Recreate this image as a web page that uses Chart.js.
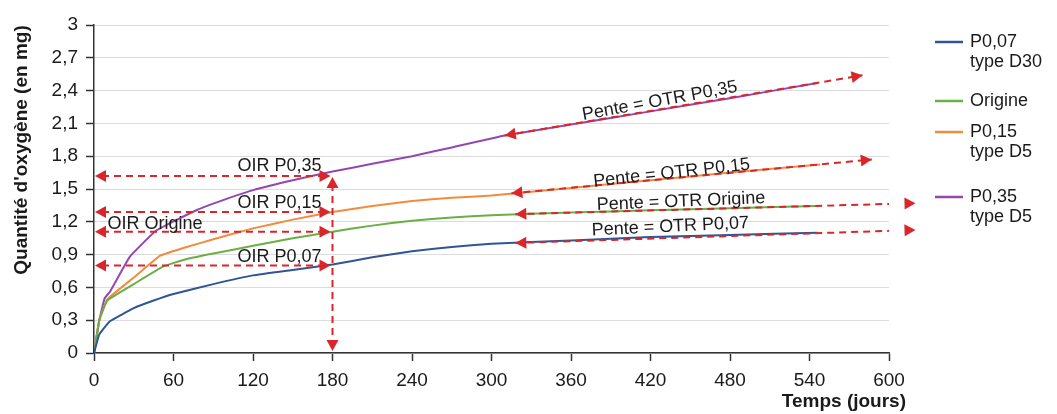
<!DOCTYPE html>
<html><head><meta charset="utf-8">
<script src="https://cdn.jsdelivr.net/npm/chart.js@4.4.1/dist/chart.umd.min.js"></script>
<style>html,body{margin:0;padding:0;background:#fff;}#wrap{width:1057px;height:414px;position:relative;}</style>
</head><body><div id="wrap"><canvas id="c" width="1057" height="414"></canvas></div>
<script>
// ---- data ----
const seriesNames = ["P0,07 type D30", "Origine", "P0,15 type D5", "P0,35 type D5"];
const legendLines = [["P0,07", "type D30"], ["Origine"], ["P0,15", "type D5"], ["P0,35", "type D5"]];
const daysP007 = [0, 4, 12, 30, 45, 60, 90, 120, 150, 180, 210, 240, 270, 300, 360, 420, 480, 546];
const valsP007 = [0, 0.17, 0.29, 0.41, 0.48, 0.54, 0.63, 0.71, 0.76, 0.81, 0.875, 0.93, 0.97, 1.00, 1.03, 1.06, 1.08, 1.10];
const daysOrig = [0, 4, 10, 30, 52, 70, 90, 120, 150, 180, 210, 240, 270, 300, 360, 420, 480, 546];
const valsOrig = [0, 0.30, 0.48, 0.63, 0.79, 0.86, 0.91, 0.98, 1.05, 1.11, 1.165, 1.21, 1.24, 1.26, 1.285, 1.305, 1.325, 1.345];
const daysP015 = [0, 4, 10, 30, 50, 70, 90, 120, 150, 180, 210, 240, 270, 300, 360, 420, 480, 548];
const valsP015 = [0, 0.30, 0.49, 0.69, 0.89, 0.97, 1.04, 1.14, 1.22, 1.29, 1.345, 1.39, 1.42, 1.44, 1.51, 1.58, 1.65, 1.725];
const daysP035 = [0, 4, 8, 12, 27, 47, 78, 100, 120, 150, 180, 210, 240, 270, 310, 360, 420, 480, 546];
const valsP035 = [0, 0.30, 0.50, 0.56, 0.88, 1.12, 1.31, 1.41, 1.49, 1.58, 1.66, 1.73, 1.80, 1.88, 1.99, 2.09, 2.21, 2.33, 2.47];
// OTR slope arrows (start day/value -> end day/value)
const otrDay0 = [318, 318, 315, 310];
const otrVal0 = [1.006, 1.27, 1.46, 1.99];
const otrDay1 = [620, 620, 587, 580];
const otrVal1 = [1.125, 1.37, 1.77, 2.54];
const otrLabels = ["Pente = OTR P0,07", "Pente = OTR Origine", "Pente = OTR P0,15", "Pente = OTR P0,35"];
// OIR at 180 days
const oirDay = 180;
const oirVals = [0.80, 1.11, 1.29, 1.62];
const oirLabels = ["OIR P0,07", "OIR Origine", "OIR P0,15", "OIR P0,35"];
const xTicks = [0, 60, 120, 180, 240, 300, 360, 420, 480, 540, 600];
const yTicks = [0, 0.3, 0.6, 0.9, 1.2, 1.5, 1.8, 2.1, 2.4, 2.7, 3];

// ---- styles ----
const FONT = "'Liberation Sans', Arial, sans-serif";
const colors = ["#2f5597", "#6aaf45", "#f28c3c", "#9248b0"];
const RED = "#d9262b";
const TXT = "#1a1a1a";

const allDays = [daysP007, daysOrig, daysP015, daysP035];
const allVals = [valsP007, valsOrig, valsP015, valsP035];
const datasets = [];
allDays.forEach((d, i) => {
  datasets.push({label: seriesNames[i], data: d.map((x, k) => ({x: x, y: allVals[i][k]})),
    borderColor: colors[i], borderWidth: 2, pointRadius: 0, tension: 0.1, fill: false, order: 2});
});
otrDay0.forEach((d, i) => {
  datasets.push({label: "otr" + i, data: [{x: d, y: otrVal0[i]}, {x: otrDay1[i], y: otrVal1[i]}],
    borderColor: RED, borderWidth: 2, borderDash: [7, 5], pointRadius: 0, fill: false, order: 1});
});

function arrow(ctx, x, y, ang, len, half) {
  ctx.save();
  ctx.translate(x, y); ctx.rotate(ang);
  ctx.beginPath(); ctx.moveTo(0, 0); ctx.lineTo(-len, -half); ctx.lineTo(-len, half); ctx.closePath();
  ctx.fillStyle = RED; ctx.fill(); ctx.restore();
}

const annot = {
  id: 'annot',
  afterDatasetsDraw(chart) {
    const ctx = chart.ctx, xs = chart.scales.x, ys = chart.scales.y;
    // OTR arrowheads
    otrDay0.forEach((d, i) => {
      const x0 = xs.getPixelForValue(d), y0 = ys.getPixelForValue(otrVal0[i]);
      const x1 = xs.getPixelForValue(otrDay1[i]), y1 = ys.getPixelForValue(otrVal1[i]);
      const a = Math.atan2(y1 - y0, x1 - x0);
      arrow(ctx, x1, y1, a, 11, 6);
      arrow(ctx, x0, y0, a + Math.PI, 11, 6);
    });
    // OIR dashed lines
    ctx.save();
    ctx.strokeStyle = RED; ctx.lineWidth = 2; ctx.setLineDash([7, 5]);
    const xa = xs.getPixelForValue(0), xb = xs.getPixelForValue(oirDay);
    oirVals.forEach(v => {
      const y = ys.getPixelForValue(v);
      ctx.beginPath(); ctx.moveTo(xa + 8, y); ctx.lineTo(xb - 8, y); ctx.stroke();
    });
    const yTop = ys.getPixelForValue(Math.max(...oirVals)), yBot = ys.getPixelForValue(0);
    ctx.beginPath(); ctx.moveTo(xb, yTop + 8); ctx.lineTo(xb, yBot - 8); ctx.stroke();
    ctx.restore();
    oirVals.forEach(v => {
      const y = ys.getPixelForValue(v);
      arrow(ctx, xa + 1, y, Math.PI, 11, 6);
      arrow(ctx, xb - 2, y, 0, 11, 6);
    });
    arrow(ctx, xb, yTop + 1, -Math.PI / 2, 11, 6);
    arrow(ctx, xb, yBot - 2, Math.PI / 2, 11, 6);
    // OIR labels
    ctx.save();
    ctx.fillStyle = TXT; ctx.font = "18px " + FONT; ctx.textAlign = "center"; ctx.textBaseline = "middle";
    const oirPos = [[140, 0.88], [46, 1.18], [140, 1.37], [140, 1.71]];
    oirLabels.forEach((t, i) => {
      ctx.fillText(t, xs.getPixelForValue(oirPos[i][0]), ys.getPixelForValue(oirPos[i][1]));
    });
    // OTR labels along slope
    const otrPos = [[435, 1.155], [443, 1.385], [436, 1.645], [427, 2.305]];
    otrLabels.forEach((t, i) => {
      const x0 = xs.getPixelForValue(otrDay0[i]), y0 = ys.getPixelForValue(otrVal0[i]);
      const x1 = xs.getPixelForValue(otrDay1[i]), y1 = ys.getPixelForValue(otrVal1[i]);
      const a = Math.atan2(y1 - y0, x1 - x0);
      ctx.save();
      ctx.translate(xs.getPixelForValue(otrPos[i][0]), ys.getPixelForValue(otrPos[i][1]));
      ctx.rotate(a - 0.015);
      ctx.fillText(t, 0, 0);
      ctx.restore();
    });
    ctx.restore();
  },
  afterDraw(chart) {
    const ctx = chart.ctx;
    ctx.save();
    // axis titles
    ctx.fillStyle = TXT;
    ctx.font = "bold 19px " + FONT;
    ctx.textAlign = "center"; ctx.textBaseline = "middle";
    ctx.translate(22, 150); ctx.rotate(-Math.PI / 2);
    ctx.fillText("Quantité d'oxygène (en mg)", 0, 0);
    ctx.setTransform(1, 0, 0, 1, 0, 0);
    ctx.textAlign = "right";
    ctx.fillText("Temps (jours)", 906, 402);
    // legend
    ctx.font = "18px " + FONT; ctx.textAlign = "left";
    const ly = [42, 101, 132, 197];
    legendLines.forEach((lines, i) => {
      ctx.strokeStyle = colors[i]; ctx.lineWidth = 2.5;
      ctx.beginPath(); ctx.moveTo(935, ly[i]); ctx.lineTo(963, ly[i]); ctx.stroke();
      lines.forEach((t, k) => ctx.fillText(t, 970, ly[i] + k * 20));
    });
    ctx.restore();
  }
};

new Chart(document.getElementById('c'), {
  type: 'line',
  data: {datasets: datasets},
  options: {
    responsive: false, animation: false,
    layout: {padding: {top: 25, right: 168, left: 0, bottom: 0}},
    plugins: {legend: {display: false}, tooltip: {enabled: false}},
    scales: {
      x: {type: 'linear', min: 0, max: 600,
        afterFit(s) { s.height = 61; },
        afterBuildTicks(s) { s.ticks = xTicks.map(v => ({value: v})); },
        grid: {drawOnChartArea: false, tickLength: 8, tickColor: '#333', tickWidth: 1.5},
        border: {color: '#333', width: 1.5},
        ticks: {color: TXT, font: {family: FONT, size: 19}, padding: 8, maxRotation: 0, autoSkip: false,
          callback: v => String(v)}},
      y: {type: 'linear', min: 0, max: 3,
        afterFit(s) { s.width = 94; },
        afterBuildTicks(s) { s.ticks = yTicks.map(v => ({value: v})); },
        grid: {color: '#dcdcdc', lineWidth: 1, tickLength: 8, tickColor: '#333', tickWidth: 1.5},
        border: {color: '#333', width: 1.5},
        ticks: {color: TXT, font: {family: FONT, size: 19}, padding: 8, autoSkip: false,
          callback: v => (Math.round(v * 10) / 10).toString().replace('.', ',')}}
    }
  },
  plugins: [annot]
});
</script></body></html>
